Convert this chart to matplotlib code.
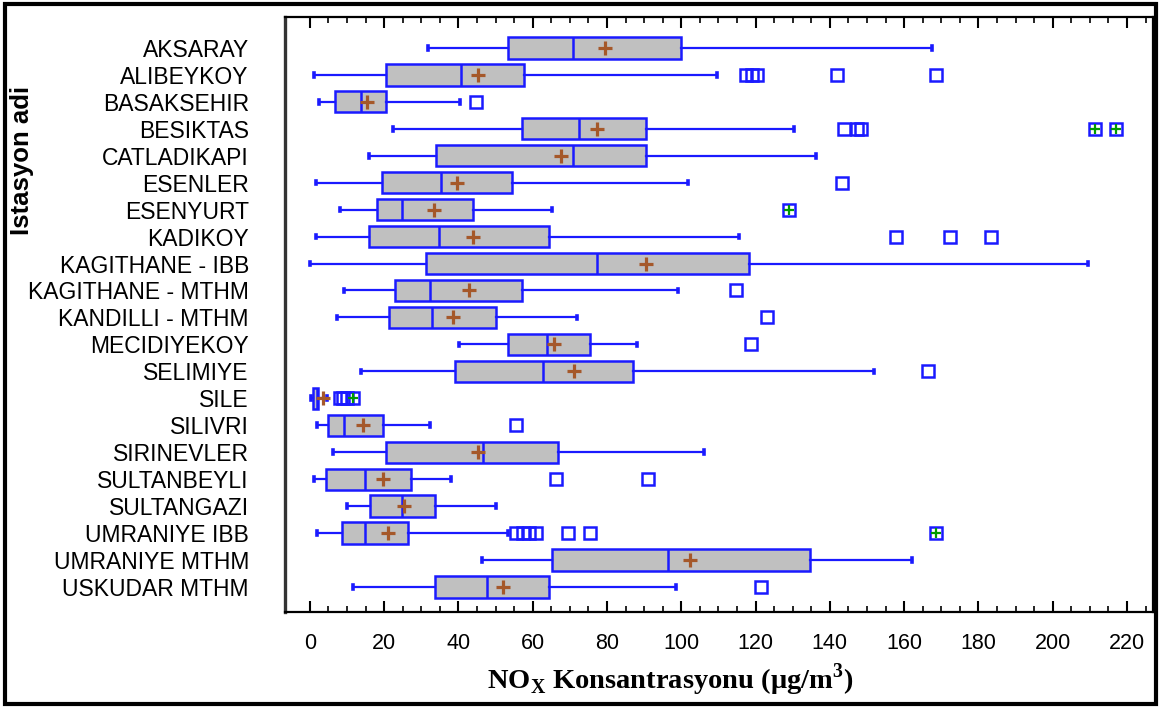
import matplotlib
matplotlib.use("Agg")
import matplotlib.pyplot as plt
from matplotlib import font_manager
from matplotlib.patches import Rectangle

# NOx concentration summary per monitoring station (µg/m3)
stations = [
    "AKSARAY", "ALIBEYKOY", "BASAKSEHIR", "BESIKTAS", "CATLADIKAPI",
    "ESENLER", "ESENYURT", "KADIKOY", "KAGITHANE - IBB", "KAGITHANE - MTHM",
    "KANDILLI - MTHM", "MECIDIYEKOY", "SELIMIYE", "SILE", "SILIVRI",
    "SIRINEVLER", "SULTANBEYLI", "SULTANGAZI", "UMRANIYE IBB",
    "UMRANIYE MTHM", "USKUDAR MTHM",
]
whisker_low = [31.7, 1.2, 2.5, 22.3, 16.0, 1.6, 8.1, 1.6, 0.0, 9.2,
               7.4, 40.2, 13.7, 0.3, 1.8, 6.3, 1.2, 10.1, 1.8, 46.4, 11.7]
q1 = [53.4, 20.6, 6.7, 57.0, 33.9, 19.3, 18.0, 16.0, 31.2, 22.9,
      21.3, 53.4, 39.2, 0.9, 4.9, 20.6, 4.3, 16.2, 8.7, 65.1, 33.8]
median = [70.9, 40.8, 13.7, 72.5, 70.9, 35.4, 24.8, 34.8, 77.4, 32.3,
          32.8, 63.9, 62.8, 1.8, 9.2, 46.6, 14.8, 24.8, 14.8, 96.5, 47.7]
mean = [79.4, 45.3, 15.4, 77.4, 67.6, 39.7, 33.4, 44.0, 90.4, 42.8,
        38.4, 65.7, 71.1, 3.6, 14.4, 45.3, 19.7, 25.3, 20.9, 102.3, 52.0]
q3 = [99.9, 57.7, 20.6, 90.4, 90.4, 54.5, 43.8, 64.4, 118.3, 57.0,
      50.2, 75.5, 86.9, 2.2, 19.7, 66.8, 27.2, 33.8, 26.5, 134.6, 64.3]
whisker_high = [167.6, 109.6, 40.4, 130.4, 136.2, 101.7, 65.1, 115.5, 209.5, 99.1,
                72.0, 88.2, 151.8, 4.5, 32.3, 106.1, 38.0, 50.2, 53.4, 162.0, 98.7]
outliers = [
    [], [117.5, 119.0, 120.5, 141.9, 168.6], [44.6], [143.8, 147.3, 148.5], [],
    [143.2], [], [157.9, 172.3, 183.3], [], [114.7],
    [123.2], [118.9], [166.5], [8.0, 9.0, 10.0], [55.6],
    [], [66.2, 91.1], [], [55.6, 57.3, 59.0, 60.8, 69.5, 75.4],
    [], [121.4],
]
far_outliers = [
    [], [], [], [211.3, 217.0], [],
    [], [128.9], [], [], [],
    [], [], [], [11.5], [],
    [], [], [], [168.6],
    [], [],
]
x_ticks = [0, 20, 40, 60, 80, 100, 120, 140, 160, 180, 200, 220]

# Fonts
available = {f.name for f in font_manager.fontManager.ttflist}
narrow = "Liberation Sans Narrow" if "Liberation Sans Narrow" in available else "Liberation Sans"

BLUE = "#1a1aff"
GREY = "#c0c0c0"
BROWN = "#a5582a"
GREEN = "#009a00"

fig = plt.figure(figsize=(11.61, 7.07), dpi=100)
ax = fig.add_axes([285 / 1161, 95 / 707, 868 / 1161, 595 / 707])

positions = list(range(len(stations)))
stats = []
for i, name in enumerate(stations):
    stats.append(dict(label=name, whislo=whisker_low[i], q1=q1[i], med=median[i],
                      q3=q3[i], whishi=whisker_high[i], mean=mean[i],
                      fliers=outliers[i] + far_outliers[i]))

ax.bxp(stats, positions=positions, vert=False, widths=0.8, patch_artist=True,
       showmeans=True, capwidths=0.14,
       boxprops=dict(facecolor=GREY, edgecolor=BLUE, linewidth=1.8),
       medianprops=dict(color=BLUE, linewidth=1.8),
       whiskerprops=dict(color=BLUE, linewidth=1.6),
       capprops=dict(color=BLUE, linewidth=2.6),
       meanprops=dict(marker="+", markeredgecolor=BROWN, markersize=10,
                      markeredgewidth=2.3),
       flierprops=dict(marker="s", markerfacecolor="none", markeredgecolor=BLUE,
                       markersize=8, markeredgewidth=1.8))

# Far outliers carry a green cross inside the square
for i, vals in enumerate(far_outliers):
    if vals:
        ax.plot(vals, [positions[i]] * len(vals), linestyle="none", marker="+",
                markeredgecolor=GREEN, markersize=7, markeredgewidth=1.6, zorder=5)

ax.set_xlim(-6.7, 227)
ax.set_ylim(20.92, -1.14)

ax.set_yticks(positions)
ax.set_yticklabels(stations, fontsize=16.5, fontfamily="Liberation Sans")
ax.tick_params(axis="y", length=0, pad=26)

ax.set_xticks(x_ticks)
ax.set_xticks([v for v in range(0, 226, 5) if v % 20], minor=True)
ax.set_xticklabels([str(v) for v in x_ticks], fontsize=15.5, fontfamily=narrow)
ax.tick_params(axis="x", which="major", direction="in", length=8, width=1.5,
               top=True, bottom=True, pad=15)
ax.tick_params(axis="x", which="minor", direction="in", length=4, width=1.2,
               top=True, bottom=True)

for side in ["bottom", "top", "right"]:
    ax.spines[side].set_linewidth(1.6)
ax.spines["left"].set_linewidth(2.4)
ax.spines["left"].set_color("#333333")

fig.text(670 / 1161, 1 - 680 / 707, r"NO$_\mathregular{X}$ Konsantrasyonu (μg/m$^\mathregular{3}$)",
         ha="center", va="center", fontsize=20.5, fontweight="bold",
         fontfamily="Liberation Serif")
fig.text(22 / 1161, 1 - 160 / 707, "Istasyon adi", rotation=90, ha="center",
         va="center", fontsize=18.5, fontweight="bold", fontfamily="Liberation Sans")

# Outer frame around the whole figure
fig.add_artist(Rectangle((0.004, 0.004), 0.992, 0.99, transform=fig.transFigure,
                         fill=False, edgecolor="black", linewidth=3))

fig.savefig("out.png", dpi=100)
